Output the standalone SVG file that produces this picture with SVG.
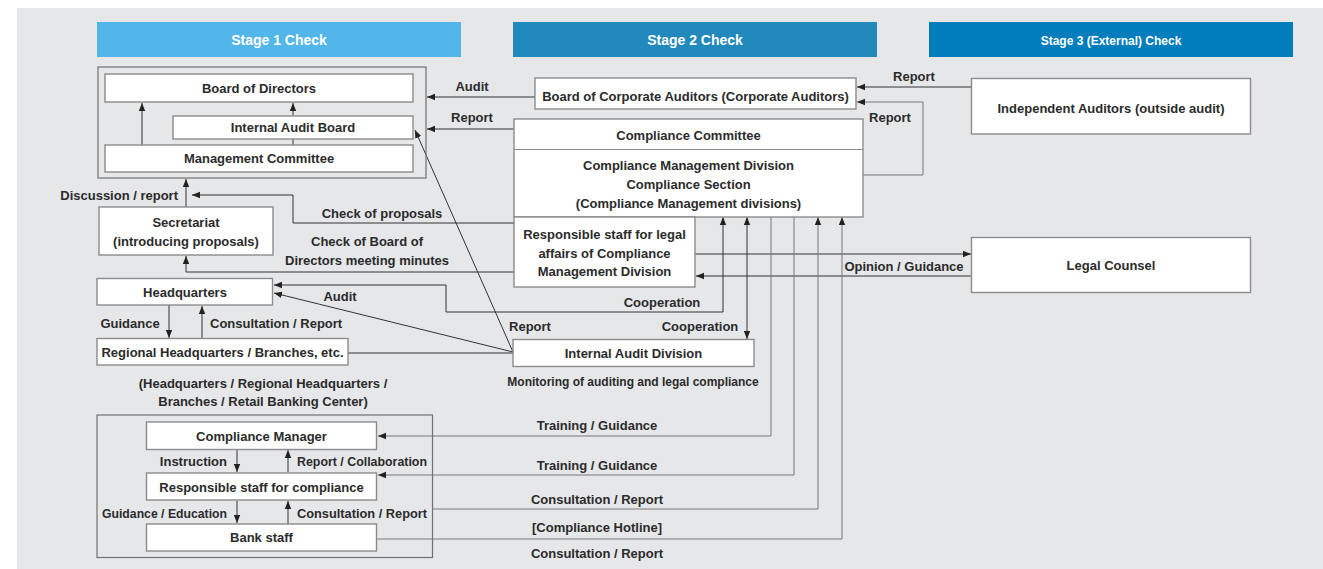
<svg xmlns="http://www.w3.org/2000/svg" width="1323" height="569" viewBox="0 0 1323 569">
<style>
text{font-family:"Liberation Sans",Arial,sans-serif;font-weight:bold;font-size:13px;fill:#2b2b2b;text-anchor:middle}
.st{fill:#fff;font-size:14px}
.st3{fill:#fff;font-size:12px}
.sm{font-size:12px}
.l{text-anchor:start}
.r{text-anchor:end}
.box{fill:#fff;stroke:#8c8c8c;stroke-width:1.4}
.grp{fill:none;stroke:#707070;stroke-width:1.2}
.c{fill:none;stroke:#333;stroke-width:1}
.g{fill:none;stroke:#777;stroke-width:1}
</style>
<defs>
<marker id="a" viewBox="0 0 8 8" refX="8" refY="4" markerWidth="8" markerHeight="8" markerUnits="userSpaceOnUse" orient="auto-start-reverse">
<path d="M0,0.8 L8,4 L0,7.2 Z" fill="#222"/>
</marker>
</defs>
<rect x="17" y="8" width="1306" height="561" fill="#e6e7e9"/>
<g id="stage1"><rect x="97" y="22" width="364" height="35" fill="#52b7e8"/><text class="st" x="279" y="45">Stage 1 Check</text></g>
<g id="stage2"><rect x="513" y="22" width="364" height="35" fill="#2189bc"/><text class="st" x="695" y="45">Stage 2 Check</text></g>
<g id="stage3"><rect x="929" y="22" width="364" height="35" fill="#007dbd"/><text class="st3" x="1111" y="45">Stage 3 (External) Check</text></g>

<g id="connectors">
<path class="c" d="M535,97 H427" marker-end="url(#a)"/>
<path class="c" d="M514,129 H427" marker-end="url(#a)"/>
<path class="c" d="M142,145 V103" marker-end="url(#a)"/>
<path class="c" d="M293,145 V139"/>
<path class="c" d="M293,116 V103" marker-end="url(#a)"/>
<path class="c" d="M186,207 V179" marker-end="url(#a)"/>
<path class="c" d="M514,223 H293 V195 H192" marker-end="url(#a)"/>
<path class="c" d="M514,272 H186 V256" marker-end="url(#a)"/>
<path class="c" d="M723,217 V312 H446 V285 H274" marker-start="url(#a)" marker-end="url(#a)"/>
<path class="c" d="M747,217 V339" marker-start="url(#a)" marker-end="url(#a)"/>
<path class="c" d="M695,254 H971" marker-end="url(#a)"/>
<path class="c" d="M971,276 H696" marker-end="url(#a)"/>
<path class="c" d="M971,87 H857" marker-end="url(#a)"/>
<path class="g" d="M863,175 H923 V102 H857" marker-end="url(#a)"/>
<path class="c" d="M513,352 L415,130" marker-end="url(#a)"/>
<path class="c" d="M513,352 L274,293" marker-end="url(#a)"/>
<path class="c" d="M348,353 H513"/>
<path class="c" d="M169,305 V338" marker-end="url(#a)"/>
<path class="c" d="M202,338 V306" marker-end="url(#a)"/>
<path class="g" d="M771,217 V436 H378" marker-end="url(#a)"/>
<path class="g" d="M794,217 V475 H378" marker-end="url(#a)"/>
<path class="g" d="M433,509 H818 V217" marker-end="url(#a)"/>
<path class="g" d="M377,539 H842 V217" marker-end="url(#a)"/>
<path class="c" d="M237,450 V472" marker-end="url(#a)"/>
<path class="c" d="M288,472 V450" marker-end="url(#a)"/>
<path class="c" d="M237,501 V523" marker-end="url(#a)"/>
<path class="c" d="M288,524 V501" marker-end="url(#a)"/>
<text x="472" y="90.5">Audit</text>
<text x="472" y="122">Report</text>
<text x="914" y="80.5">Report</text>
<text x="890" y="122">Report</text>
<text class="r" x="178" y="199.5">Discussion / report</text>
<text x="382" y="218">Check of proposals</text>
<text x="367" y="245.5">Check of Board of</text>
<text x="367" y="264.5">Directors meeting minutes</text>
<text x="904" y="270.5">Opinion / Guidance</text>
<text x="340" y="300.5">Audit</text>
<text x="130" y="327.5">Guidance</text>
<text class="l" x="210" y="327.5">Consultation / Report</text>
<text x="530" y="330.5">Report</text>
<text x="662" y="306.5">Cooperation</text>
<text x="700" y="330.5">Cooperation</text>
<text class="sm" x="633" y="386">Monitoring of auditing and legal compliance</text>
<text x="263" y="387.5">(Headquarters / Regional Headquarters /</text>
<text x="263" y="406">Branches / Retail Banking Center)</text>
<text x="597" y="430">Training / Guidance</text>
<text x="597" y="470">Training / Guidance</text>
<text x="597" y="504">Consultation / Report</text>
<text x="597" y="532">[Compliance Hotline]</text>
<text x="597" y="558">Consultation / Report</text>
<text class="r" x="227" y="466">Instruction</text>
<text class="l" x="297" y="466" textLength="130" lengthAdjust="spacingAndGlyphs">Report / Collaboration</text>
<text class="r" x="227" y="517.5" textLength="125" lengthAdjust="spacingAndGlyphs">Guidance / Education</text>
<text class="l" x="297" y="517.5" textLength="130" lengthAdjust="spacingAndGlyphs">Consultation / Report</text>
</g>

<g id="stage1-group"><rect class="grp" x="98" y="67" width="328" height="111"/></g>
<g id="board-of-directors"><rect class="box" x="105" y="74" width="308" height="28"/><text x="259" y="92.5">Board of Directors</text></g>
<g id="internal-audit-board"><rect class="box" x="173" y="116" width="240" height="23"/><text x="293" y="132">Internal Audit Board</text></g>
<g id="management-committee"><rect class="box" x="105" y="145" width="308" height="27"/><text x="259" y="162.5">Management Committee</text></g>
<g id="secretariat"><rect class="box" x="99" y="207" width="174" height="48"/><text x="186" y="226.5">Secretariat</text><text x="186" y="245.5">(introducing proposals)</text></g>
<g id="board-of-corporate-auditors"><rect class="box" x="535" y="78" width="321" height="31"/><text x="695.5" y="100.5">Board of Corporate Auditors (Corporate Auditors)</text></g>
<g id="compliance-committee"><rect class="box" x="514" y="119" width="349" height="98"/><line x1="514" y1="149.5" x2="863" y2="149.5" stroke="#8c8c8c" stroke-width="1.2"/><text x="688.5" y="139.5">Compliance Committee</text><text x="688.5" y="169.5">Compliance Management Division</text><text x="688.5" y="188.5">Compliance Section</text><text x="688.5" y="207.5">(Compliance Management divisions)</text></g>
<g id="legal-staff"><rect class="box" x="514" y="217" width="181" height="70"/><text x="604.5" y="238.5">Responsible staff for legal</text><text x="604.5" y="257.5">affairs of Compliance</text><text x="604.5" y="275.5">Management Division</text></g>
<g id="independent-auditors"><rect class="box" x="971.5" y="78.5" width="279" height="55.5"/><text x="1111" y="112.5">Independent Auditors (outside audit)</text></g>
<g id="legal-counsel"><rect class="box" x="971.5" y="237.5" width="279" height="55"/><text x="1111" y="269.5">Legal Counsel</text></g>
<g id="headquarters"><rect class="box" x="97" y="278.5" width="175.5" height="26.5"/><text x="185" y="296.5">Headquarters</text></g>
<g id="regional-headquarters"><rect class="box" x="97" y="338.5" width="251" height="26.5"/><text x="222.5" y="356.5">Regional Headquarters / Branches, etc.</text></g>
<g id="internal-audit-division"><rect class="box" x="513" y="339.5" width="241" height="27"/><text x="633.5" y="357.5">Internal Audit Division</text></g>
<g id="branch-group"><rect class="grp" x="97" y="415" width="335.5" height="142.5"/></g>
<g id="compliance-manager"><rect class="box" x="146.5" y="422" width="230" height="27.5"/><text x="261.5" y="440.5">Compliance Manager</text></g>
<g id="responsible-staff"><rect class="box" x="146.5" y="473" width="230" height="27"/><text x="261.5" y="491.5">Responsible staff for compliance</text></g>
<g id="bank-staff"><rect class="box" x="146.5" y="524" width="230" height="27"/><text x="261.5" y="542">Bank staff</text></g>
</svg>
